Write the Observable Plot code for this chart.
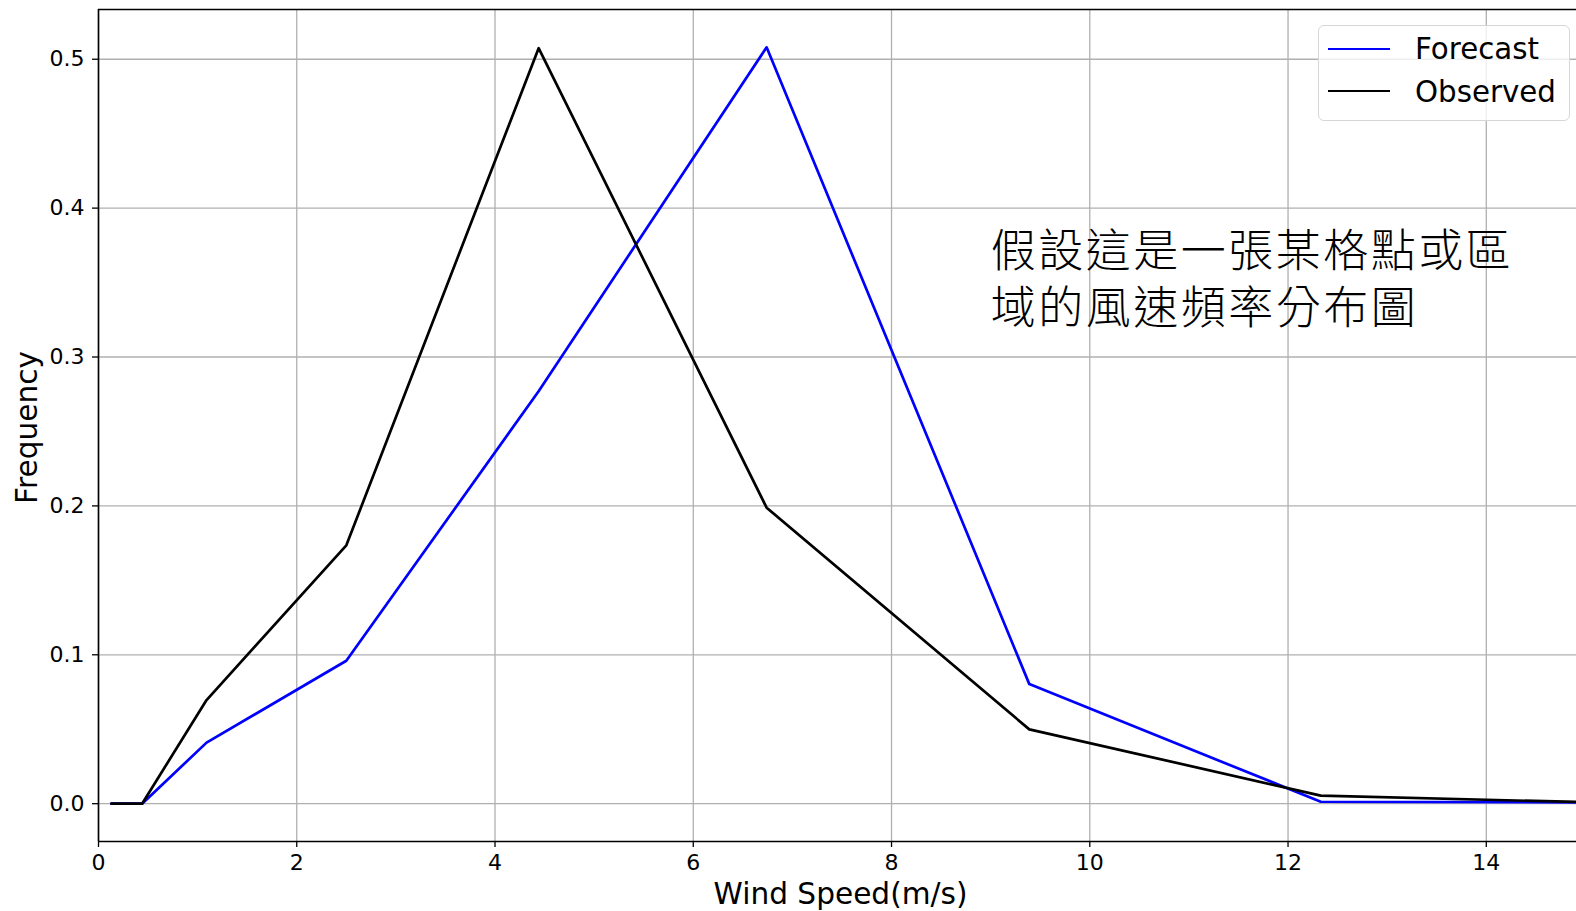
<!DOCTYPE html>
<html><head><meta charset="utf-8">
<script src="https://cdn.jsdelivr.net/npm/d3@7"></script>
<script src="https://cdn.jsdelivr.net/npm/@observablehq/plot@0.6"></script>
<style>
html,body{margin:0;padding:0;background:#fff;overflow:hidden}
#wrap{position:relative;width:1576px;height:911px}
.legend{position:absolute;left:1318px;top:25px;width:252px;height:96px;box-sizing:border-box;border:1.5px solid #d6d6d6;border-radius:6px;background:rgba(255,255,255,0.8);font-family:"DejaVu Sans";font-size:29.3px;color:#000}
.legend .sw{position:absolute;left:9px;width:62px;height:2.6px}
.legend .lb{position:absolute;left:96px;line-height:1;white-space:nowrap}
</style></head>
<body><div id="wrap"></div>
<script>
const windSpeed = [0.13, 0.44, 1.09, 2.50, 4.44, 6.74, 9.39, 12.33, 15.6];
const forecast  = [0, 0, 0.041, 0.096, 0.277, 0.508, 0.0803, 0.0013, 0.0008];
const observed  = [0, 0, 0.0696, 0.1735, 0.5074, 0.1988, 0.0499, 0.0054, 0.0];
const seriesNames = ["Forecast", "Observed"];
const seriesColors = ["#0000ff", "#000000"];
const xTicks = [0, 2, 4, 6, 8, 10, 12, 14];
const yTicks = [0.0, 0.1, 0.2, 0.3, 0.4, 0.5];
const xDomain = [0, 14.91];
const yDomain = [-0.0254, 0.5334];
const xLabel = "Wind Speed(m/s)";
const yLabel = "Frequency";
const annotation = "假設這是一張某格點或區\n域的風速頻率分布圖";
const annX = 9.0, annY = 0.3535;

const rows = [];
windSpeed.forEach((w, i) => {
  rows.push({x: w, y: forecast[i], s: seriesNames[0]});
  rows.push({x: w, y: observed[i], s: seriesNames[1]});
});

const font = "DejaVu Sans";
const chart = Plot.plot({
  width: 1576, height: 911,
  marginLeft: 98, marginRight: 0, marginTop: 9, marginBottom: 70,
  style: {fontFamily: font, color: "#000", background: "#fff"},
  x: {domain: xDomain},
  y: {domain: yDomain},
  marks: [
    Plot.gridX(xTicks, {stroke: "#b0b0b0", strokeOpacity: 1, strokeWidth: 1.3}),
    Plot.gridY(yTicks, {stroke: "#b0b0b0", strokeOpacity: 1, strokeWidth: 1.3}),
    Plot.line(rows.filter(d => d.s === seriesNames[0]), {x: "x", y: "y", stroke: seriesColors[0], strokeWidth: 2.7, clip: true}),
    Plot.line(rows.filter(d => d.s === seriesNames[1]), {x: "x", y: "y", stroke: seriesColors[1], strokeWidth: 2.7, clip: true}),
    Plot.ruleX([xDomain[0]], {stroke: "#000", strokeWidth: 1.6}),
    Plot.ruleY([yDomain[0], yDomain[1]], {stroke: "#000", strokeWidth: 1.6}),
    Plot.axisX(xTicks, {tickSize: 6, tickPadding: 7, fontSize: 22, label: null, stroke: "#000", strokeWidth: 1.3, fill: "#000"}),
    Plot.axisY(yTicks, {tickSize: 6, tickPadding: 8, fontSize: 22, label: null, tickFormat: d3.format(".1f"), stroke: "#000", strokeWidth: 1.3, fill: "#000"}),
    Plot.text([xLabel], {frameAnchor: "bottom", dx: 3, dy: 53, lineAnchor: "middle", textAnchor: "middle", fontSize: 29.6, fill: "#000"}),
    Plot.text([yLabel], {frameAnchor: "left", dx: -71, dy: 2, rotate: -90, lineAnchor: "middle", textAnchor: "middle", fontSize: 29.6, fill: "#000"}),
    Plot.text([annotation], {x: () => annX, y: () => annY, textAnchor: "start", lineAnchor: "middle", lineHeight: 1.27, fontSize: 45, fontFamily: "Noto Sans CJK TC", fontWeight: 300, fill: "#000"})
  ]
});
d3.select(chart).selectAll("text")
  .filter(function() { return this.textContent.includes("假"); })
  .style("letter-spacing", "2.5px");
const wrap = document.getElementById("wrap");
wrap.appendChild(chart);

const legend = document.createElement("div");
legend.className = "legend";
const swTops = [21.5, 63.9];
const lbTops = [9, 52.4];
seriesNames.forEach((n, i) => {
  const sw = document.createElement("div");
  sw.className = "sw"; sw.style.top = swTops[i] + "px"; sw.style.background = seriesColors[i];
  const lb = document.createElement("div");
  lb.className = "lb"; lb.style.top = lbTops[i] + "px"; lb.textContent = n;
  legend.appendChild(sw); legend.appendChild(lb);
});
wrap.appendChild(legend);
</script>
</body></html>
